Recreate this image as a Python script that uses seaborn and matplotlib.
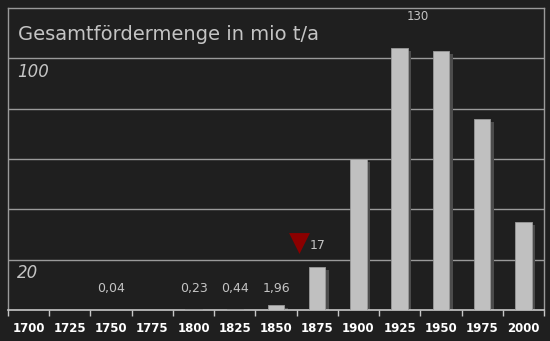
import matplotlib
matplotlib.use("Agg")
import matplotlib.pyplot as plt
import matplotlib.transforms as mtransforms
import seaborn as sns
import pandas as pd

# ---- data ----
years = ["1700", "1725", "1750", "1775", "1800", "1825", "1850", "1875",
         "1900", "1925", "1950", "1975", "2000"]
values = [0, 0, 0.04, 0, 0.23, 0.44, 1.96, 17, 60, 104, 103, 76, 35]
small_labels = ["0,04", "0,23", "0,44", "1,96"]
small_label_years = ["1750", "1800", "1825", "1850"]
top_label = "130"
marker_label = "17"
y_tick_values = [100, 20]
y_tick_labels = ["100", "20"]
title = "Gesamtfördermenge in mio t/a"

BG = "#1f1f1f"
BAR = "#c0c0c0"
SHADOW = "#4c4c4c"
GRID = "#9a9a9a"
TXT = "#c4c4c4"

sns.set_theme(style="dark")
plt.rcParams["font.family"] = ["DejaVu Sans"]

df = pd.DataFrame({"year": years, "value": values})

fig = plt.figure(figsize=(5.5, 3.41), dpi=100, facecolor=BG)
ax = fig.add_axes([8 / 550, 31 / 341, 536 / 550, 302 / 341])
ax.set_facecolor(BG)

# shadow bars
sns.barplot(data=df, x="year", y="value", order=years, color=SHADOW,
            width=0.4, saturation=1, ax=ax, linewidth=0, zorder=2)
off = mtransforms.ScaledTranslation(3.5 / 100, -3 / 100, fig.dpi_scale_trans)
for p in ax.patches:
    p.set_transform(ax.transData + off)
# main bars
sns.barplot(data=df, x="year", y="value", order=years, color=BAR,
            width=0.4, saturation=1, ax=ax, linewidth=0.6, edgecolor="#9a9a9a",
            zorder=3)

ax.set_xlim(-0.5, len(years) - 0.5)
ax.set_ylim(0, 120)
ax.set_xlabel("")
ax.set_ylabel("")

# grid lines
for g in [20, 40, 60, 80, 100]:
    ax.axhline(g, color=GRID, lw=1.0, zorder=1)

for side in ["left", "top", "right"]:
    ax.spines[side].set_color(GRID)
    ax.spines[side].set_linewidth(1.0)
    ax.spines[side].set_visible(True)
ax.spines["bottom"].set_color("#c8c8c8")
ax.spines["bottom"].set_linewidth(1.2)
ax.spines["bottom"].set_visible(True)

# x ticks: labels at centers, tick marks at boundaries
ax.set_xticks(range(len(years)))
ax.set_xticklabels(years, fontsize=8.5, fontweight="bold", color="white")
ax.tick_params(axis="x", which="major", length=0, pad=9)
ax.set_xticks([i - 0.5 for i in range(len(years) + 1)], minor=True)
ax.tick_params(axis="x", which="minor", length=4, width=1, color="#c8c8c8",
               direction="out", bottom=True)
ax.set_yticks([])
ax.grid(False)

# y labels inside plot
trans = mtransforms.blended_transform_factory(ax.transAxes, ax.transData)
for v, lab in zip(y_tick_values, y_tick_labels):
    ax.text(9 / 536, v - 5.3, lab, transform=trans, fontsize=12,
            fontstyle="italic", color=TXT, ha="left", va="center")

# small value labels
for lab, yr in zip(small_labels, small_label_years):
    ax.text(years.index(yr), 8.7, lab, fontsize=9, color=TXT,
            ha="center", va="center")

ax.text(years.index("1925") + 0.45, 116.8, top_label, fontsize=8.5,
        color=TXT, ha="center", va="center")

# marker
ax.scatter([years.index("1850") + 0.55], [26.8], marker="v", s=225,
           color="#8b0000", linewidths=0, zorder=5, clip_on=False)
ax.text(years.index("1875"), 25.8, marker_label, fontsize=9, color=TXT,
        ha="center", va="center")

fig.text(18 / 550, 1 - 34 / 341, title, fontsize=14, color=TXT,
         ha="left", va="center")

fig.savefig("out.png", dpi=100, facecolor=BG)
